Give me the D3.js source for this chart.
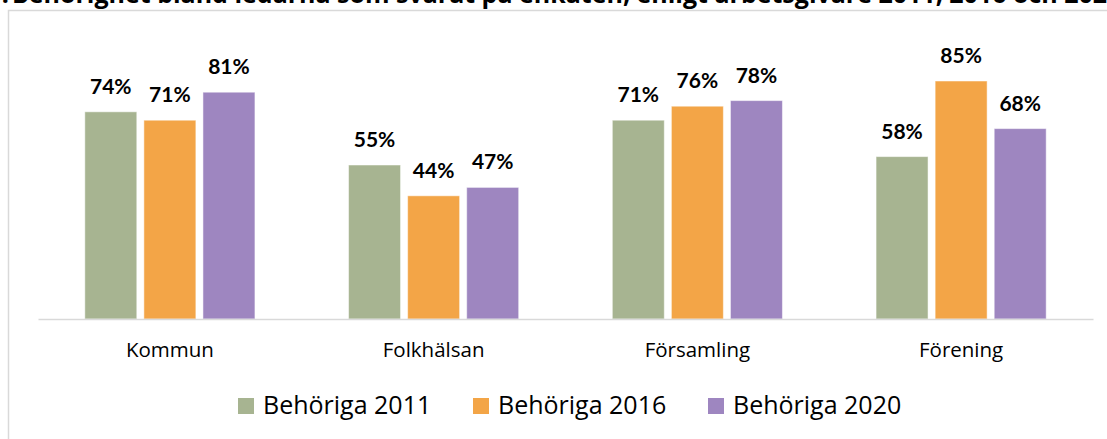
<!DOCTYPE html>
<html>
<head>
<meta charset="utf-8">
<title>behoriga</title>
<script src="https://d3js.org/d3.v7.min.js"></script>
<style>
  body { margin: 0; background: #fff; }
  text { fill: #000; }
</style>
</head>
<body>
<svg id="chart" width="1107" height="439"></svg>
<script>
// data
let categories = ["Kommun", "Folkhälsan", "Församling", "Förening"]
let seriesNames = ["Behöriga 2011", "Behöriga 2016", "Behöriga 2020"]
let b2011 = [74, 55, 71, 58]
let b2016 = [71, 44, 76, 85]
let b2020 = [81, 47, 78, 68]
let colors = ["#a7b491", "#f3a547", "#9e86c0"]
let titlePrefix = "Figur 1."
let title = "Behörighet bland ledarna som svarat på enkäten, enligt arbetsgivare 2011, 2016 och 2020"

let values = [b2011, b2016, b2020]
let svg = d3.select("#chart")
let sans = "'Open Sans', sans-serif"

// chart frame (cut off on the right and bottom)
svg.append("rect")
  .attr("x", 8.5).attr("y", 10.5)
  .attr("width", 1300).attr("height", 600)
  .attr("fill", "none").attr("stroke", "#d9d9d9").attr("stroke-width", 1.5)

// title, only the lower part shows
svg.append("text")
  .attr("x", 9).attr("y", 3)
  .attr("text-anchor", "end")
  .attr("font-family", sans).attr("font-size", 25).attr("font-weight", "bold")
  .text(titlePrefix)
svg.append("text")
  .attr("x", 12).attr("y", 3)
  .attr("font-family", sans).attr("font-size", 25).attr("font-weight", "bold")
  .text(title)

let x0 = d3.scaleBand().domain(categories).range([38, 1093])
  .paddingInner(0.355).paddingOuter(0.1775)
let x1 = d3.scaleBand().domain(d3.range(seriesNames.length))
  .range([0, x0.bandwidth()]).paddingInner(0.12)
let y = d3.scaleLinear().domain([0, 100]).range([319, 39])

let groups = svg.selectAll("g.cat").data(categories).enter().append("g")
  .attr("class", "cat")
  .attr("transform", d => `translate(${x0(d)},0)`)

groups.selectAll("rect").data((d, i) => values.map((s, j) => ({ j: j, v: s[i] })))
  .enter().append("rect")
  .attr("x", d => x1(d.j))
  .attr("y", d => y(d.v))
  .attr("width", x1.bandwidth())
  .attr("height", d => y(0) - y(d.v))
  .attr("fill", d => colors[d.j])
  .attr("stroke", "#ffffff").attr("stroke-opacity", 0.5).attr("stroke-width", 1)

groups.selectAll("text.lbl").data((d, i) => values.map((s, j) => ({ j: j, v: s[i] })))
  .enter().append("text")
  .attr("class", "lbl")
  .attr("x", d => x1(d.j) + x1.bandwidth() / 2)
  .attr("y", d => y(d.v) - 18)
  .attr("text-anchor", "middle")
  .attr("font-family", "Lato, sans-serif")
  .attr("font-size", 21).attr("font-weight", "bold")
  .text(d => d.v + "%")

// category axis
let xAxis = svg.append("g")
  .attr("transform", "translate(0,319)")
  .call(d3.axisBottom(x0).tickSize(0).tickPadding(23))
xAxis.select(".domain").attr("stroke", "#d9d9d9").attr("stroke-width", 1.5)
xAxis.attr("font-size", null).attr("font-family", null)
xAxis.selectAll("text")
  .style("font-size", "20.5px").style("font-family", sans).attr("fill", "#000")

// legend
let legendX = [238, 473, 708]
let legend = svg.selectAll("g.leg").data(seriesNames).enter().append("g")
  .attr("class", "leg")
  .attr("transform", (d, i) => `translate(${legendX[i]},398)`)
legend.append("rect").attr("width", 16).attr("height", 16)
  .attr("fill", (d, i) => colors[i])
legend.append("text").attr("x", 25).attr("y", 15.5)
  .attr("font-family", sans).attr("font-size", 25)
  .text(d => d)
</script>
</body>
</html>
